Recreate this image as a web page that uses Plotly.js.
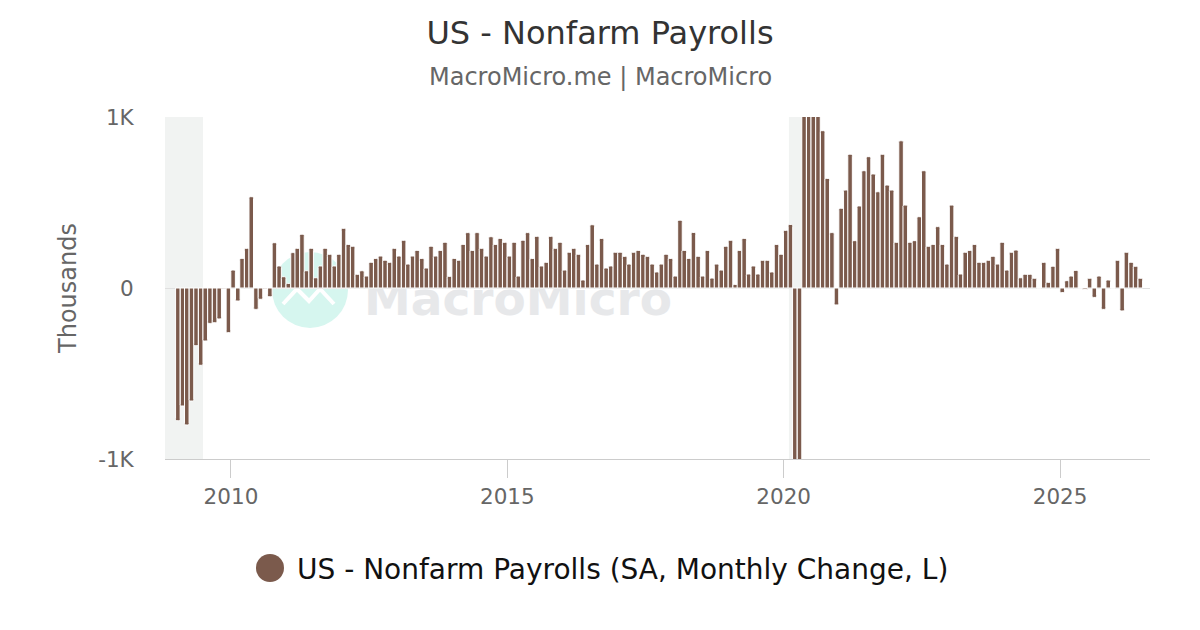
<!DOCTYPE html>
<html>
<head>
<meta charset="utf-8">
<script src="https://cdn.plot.ly/plotly-3.0.1.min.js"></script>
<style>
html,body{margin:0;padding:0;background:#fff;}
#chart{width:1200px;height:630px;}
</style>
</head>
<body>
<div id="chart"></div>
<script>
// Monthly change, thousands (SA)
const years = [2009, 2010, 2011, 2012, 2013, 2014, 2015, 2016, 2017, 2018, 2019, 2020, 2021, 2022, 2023, 2024, 2025, 2026];
const v2009 = [-776, -690, -801, -661, -337, -452, -310, -207, -203, -181, -5, -261];
const v2010 = [105, -76, 173, 232, 534, -125, -66, -5, -51, 265, 129, 66];
const v2011 = [27, 207, 232, 314, 101, 232, 60, 129, 232, 197, 129, 197];
const v2012 = [349, 255, 244, 80, 101, 70, 150, 173, 187, 162, 150, 232];
const v2013 = [187, 279, 140, 187, 220, 173, 117, 244, 187, 220, 267, 68];
const v2014 = [173, 162, 255, 324, 220, 324, 232, 187, 300, 255, 290, 267];
const v2015 = [187, 267, 70, 279, 324, 173, 302, 129, 150, 302, 232, 267];
const v2016 = [105, 209, 232, 197, 47, 255, 370, 140, 290, 117, 129, 209];
const v2017 = [209, 185, 140, 209, 220, 197, 185, 140, 94, 140, 197, 173];
const v2018 = [70, 396, 220, 173, 325, 185, 70, 220, 58, 140, 105, 244];
const v2019 = [279, 21, 220, 290, 82, 129, 82, 162, 162, 94, 255, 197];
const v2020 = [337, 372, -1373, -20477, 2833, 4846, 1726, 1583, 920, 641, 324, -99];
const v2021 = [466, 573, 782, 277, 480, 686, 768, 667, 563, 782, 602, 573];
const v2022 = [267, 861, 485, 267, 277, 417, 686, 244, 255, 359, 255, 140];
const v2023 = [485, 302, 82, 209, 220, 255, 150, 150, 162, 185, 140, 267];
const v2024 = [105, 209, 222, 60, 80, 80, 57, 0, 150, 33, 127, 232];
const v2025 = [-27, 43, 70, 103, 0, -8, 57, -55, 70, -125, 47, 0];
const v2026 = [162, -134, 209, 150, 127, 57];
const yearValues = [v2009, v2010, v2011, v2012, v2013, v2014, v2015, v2016, v2017, v2018, v2019, v2020, v2021, v2022, v2023, v2024, v2025, v2026];

const yTickVals = [-1000, 0, 1000];
const yTickText = ['-1K', '0', '1K'];
const xTickVals = ['2010-01-01', '2015-01-01', '2020-01-01', '2025-01-01'];
const xTickText = ['2010', '2015', '2020', '2025'];
const recessions = [['2007-12-01', '2009-06-30'], ['2020-02-05', '2020-04-28']];

const titleText = 'US - Nonfarm Payrolls';
const subtitleText = 'MacroMicro.me | MacroMicro';
const seriesName = 'US - Nonfarm Payrolls (SA, Monthly Change, L)';

// build monthly series
const xs = [], ys = [];
years.forEach((yr, i) => {
  yearValues[i].forEach((v, m) => {
    const mm = String(m + 1).padStart(2, '0');
    xs.push(yr + '-' + mm + '-15');
    ys.push(v);
  });
});

const BAR = '#7b5a4c';
const L = 165, R = 50, T = 117, B = 171, W = 1200, H = 630;
const PW = W - L - R, PH = H - T - B;
const px = x => (x - L) / PW;
const py = y => (H - B - y) / PH;

const shapes = [];
recessions.forEach(r => {
  shapes.push({type: 'rect', xref: 'x', yref: 'paper', x0: r[0], x1: r[1], y0: 0, y1: 1,
    fillcolor: '#f1f3f2', line: {width: 0}, layer: 'below'});
});
// watermark
shapes.push({type: 'circle', xref: 'paper', yref: 'paper', x0: px(272), x1: px(348), y0: py(328), y1: py(252),
  fillcolor: '#d6f6ef', line: {width: 0}, layer: 'below'});
shapes.push({type: 'path', xref: 'paper', yref: 'paper',
  path: 'M ' + px(283) + ' ' + py(304) + ' L ' + px(297) + ' ' + py(289) + ' L ' + px(309) + ' ' + py(301) +
        ' L ' + px(320) + ' ' + py(289) + ' L ' + px(334) + ' ' + py(304),
  line: {color: '#ffffff', width: 4}, layer: 'below'});
shapes.push({type: 'rect', xref: 'paper', yref: 'paper', x0: px(360), x1: px(676), y0: py(318), y1: py(272),
  line: {width: 0}, fillcolor: 'rgba(0,0,0,0)', layer: 'below',
  label: {text: 'MacroMicro', textposition: 'middle center',
    font: {family: 'DejaVu Sans', size: 47, color: '#e7e8ea', weight: 'bold'}}});
// legend marker
shapes.push({type: 'circle', xref: 'paper', yref: 'paper', x0: px(256), x1: px(284), y0: py(582), y1: py(554),
  fillcolor: BAR, line: {width: 0}});

const trace = {
  type: 'bar', x: xs, y: ys, name: seriesName,
  width: 30 * 24 * 3600 * 1000,
  marker: {color: BAR, line: {color: '#ffffff', width: 1}},
  hoverinfo: 'x+y', showlegend: false
};

const layout = {
  width: W, height: H,
  margin: {l: L, r: R, t: T, b: B},
  paper_bgcolor: '#ffffff', plot_bgcolor: 'rgba(0,0,0,0)',
  font: {family: 'DejaVu Sans', color: '#666'},
  barcornerradius: 2,
  bargap: 0,
  title: {text: titleText, x: 0.5, xref: 'container', xanchor: 'center',
    y: 1 - 33 / H, yref: 'container', yanchor: 'middle',
    font: {family: 'DejaVu Sans', size: 32, color: '#333'}},
  xaxis: {type: 'date', range: ['2008-10-22', '2026-08-18'],
    tickvals: xTickVals, ticktext: xTickText,
    showgrid: false, showline: true, linecolor: '#cccccc', linewidth: 1,
    ticks: 'outside', ticklen: 18, tickcolor: '#cccccc', tickwidth: 1,
    tickfont: {size: 21.5, color: '#666'}, zeroline: false, fixedrange: true},
  yaxis: {range: [-1000, 1000], tickvals: yTickVals, ticktext: yTickText,
    showgrid: true, gridcolor: '#e6e6e6', gridwidth: 1,
    zeroline: true, zerolinecolor: '#e0e0e0', zerolinewidth: 1,
    showline: false, ticks: 'outside', ticklen: 26, tickcolor: 'rgba(0,0,0,0)',
    tickfont: {size: 21.5, color: '#666'},
    title: {text: 'Thousands', standoff: 14, font: {size: 24, color: '#666'}}, fixedrange: true},
  shapes: shapes,
  annotations: [
    {text: subtitleText, xref: 'paper', yref: 'paper', x: px(600), y: py(77),
      xanchor: 'center', yanchor: 'middle', showarrow: false,
      font: {family: 'DejaVu Sans', size: 24, color: '#666'}},
    {text: seriesName, xref: 'paper', yref: 'paper', x: px(295), y: py(569),
      xanchor: 'left', yanchor: 'middle', showarrow: false,
      font: {family: 'DejaVu Sans', size: 28, color: '#111'}}
  ],
  showlegend: false
};

Plotly.newPlot('chart', [trace], layout, {displayModeBar: false, staticPlot: true});
</script>
</body>
</html>
